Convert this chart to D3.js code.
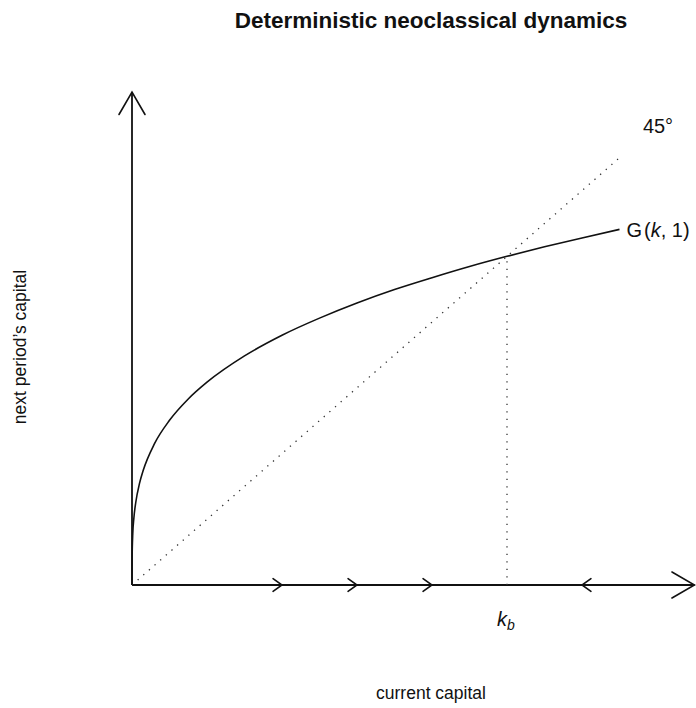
<!DOCTYPE html>
<html>
<head>
<meta charset="utf-8">
<script src="https://cdn.jsdelivr.net/npm/d3@7"></script>
<style>
  html, body { margin: 0; padding: 0; background: #fff; }
  svg { display: block; font-family: "Liberation Sans", Arial, Helvetica, sans-serif; }
</style>
</head>
<body>
<svg id="chart" width="696" height="708"></svg>
<script>
// Capital stock on the horizontal axis and next period's capital G(k, 1)
const kValues = [0, 0.0002, 0.002, 0.005, 0.01, 0.02, 0.03, 0.06, 0.1, 0.15, 0.2, 0.3, 0.4, 0.5, 0.6, 0.7, 0.8, 0.9, 1.0, 1.1, 1.2, 1.3];
const gValues = [0, 0.078, 0.155, 0.204, 0.251, 0.309, 0.349, 0.430, 0.501, 0.566, 0.617, 0.697, 0.760, 0.812, 0.858, 0.899, 0.935, 0.969, 1.000, 1.029, 1.056, 1.082];

// 45-degree line end, steady state, axis extent
const diagonalEnd = 1.3;
const kSteady = 1.0;
const axisMax = 1.5;

// direction arrows along the k axis: [position, direction]
const flowPositions = [0.4, 0.6, 0.8, 1.2];
const flowDirections = [1, 1, 1, -1];

const titleText = "Deterministic neoclassical dynamics";
const xLabel = "current capital";
const yLabel = "next period\u2019s capital";

const svg = d3.select("#chart");

const x = d3.scaleLinear().domain([0, axisMax]).range([132, 694.5]);
const y = d3.scaleLinear().domain([0, axisMax]).range([585, 92]);

const ink = "#111";

// arrowhead as two short strokes at tip (tx, ty) pointing along angle theta
function arrowHead(g, tx, ty, theta, len, spread, width) {
  const a1 = theta + Math.PI - spread;
  const a2 = theta + Math.PI + spread;
  const p = d3.path();
  p.moveTo(tx + len * Math.cos(a1), ty + len * Math.sin(a1));
  p.lineTo(tx, ty);
  p.lineTo(tx + len * Math.cos(a2), ty + len * Math.sin(a2));
  g.append("path")
    .attr("d", p.toString())
    .attr("fill", "none")
    .attr("stroke", ink)
    .attr("stroke-width", width)
    .attr("stroke-linejoin", "miter")
    .attr("stroke-linecap", "round");
}

// axes
const axes = svg.append("g");
axes.append("line")
  .attr("x1", x(0)).attr("y1", y(0))
  .attr("x2", x(axisMax)).attr("y2", y(0))
  .attr("stroke", ink).attr("stroke-width", 1.8);
axes.append("line")
  .attr("x1", x(0)).attr("y1", y(0))
  .attr("x2", x(0)).attr("y2", y(axisMax))
  .attr("stroke", ink).attr("stroke-width", 1.8);
arrowHead(axes, x(axisMax), y(0), 0, 26, Math.PI / 6, 1.6);
arrowHead(axes, x(0), y(axisMax), -Math.PI / 2, 26, Math.PI / 6, 1.6);

// flow arrows on the k axis
flowPositions.forEach((k, i) => {
  const theta = flowDirections[i] > 0 ? 0 : Math.PI;
  arrowHead(axes, x(k), y(0), theta, 11, 0.62, 1.6);
});

// 45-degree line
svg.append("line")
  .attr("x1", x(0)).attr("y1", y(0))
  .attr("x2", x(diagonalEnd)).attr("y2", y(diagonalEnd))
  .attr("stroke", "#333").attr("stroke-width", 1.3)
  .attr("stroke-dasharray", "1.3 6.2");

// steady state drop line
svg.append("line")
  .attr("x1", x(kSteady)).attr("y1", y(0))
  .attr("x2", x(kSteady)).attr("y2", y(kSteady))
  .attr("stroke", "#333").attr("stroke-width", 1.3)
  .attr("stroke-dasharray", "1.3 6.2");

// law of motion G(k, 1)
const pts = kValues.map((k, i) => [k, gValues[i]]);
const line = d3.line()
  .x(d => x(d[0]))
  .y(d => y(d[1]))
  .curve(d3.curveMonotoneX);
svg.append("path")
  .datum(pts)
  .attr("d", line)
  .attr("fill", "none")
  .attr("stroke", ink)
  .attr("stroke-width", 1.6);

// labels
const last = pts[pts.length - 1];
const gLab = svg.append("text")
  .attr("x", x(last[0]) + 7)
  .attr("y", y(last[1]) + 8)
  .attr("font-size", 20)
  .attr("fill", ink);
gLab.append("tspan").text("G");
gLab.append("tspan").attr("dx", 2).text("(");
gLab.append("tspan").attr("font-style", "italic").text("k");
gLab.append("tspan").text(", 1)");

svg.append("text")
  .attr("x", x(1.4) + 1)
  .attr("y", y(1.4) + 8)
  .attr("text-anchor", "middle")
  .attr("font-size", 20)
  .attr("fill", ink)
  .text("45\u00B0");

const kb = svg.append("text")
  .attr("x", x(kSteady) - 10)
  .attr("y", 626)
  .attr("font-size", 20)
  .attr("fill", ink);
kb.append("tspan").attr("font-style", "italic").text("k");
kb.append("tspan").attr("font-style", "italic").attr("font-size", 14).attr("dy", 4).text("b");

// title and axis titles
svg.append("text")
  .attr("x", 431)
  .attr("y", 28)
  .attr("text-anchor", "middle")
  .attr("font-size", 22.5)
  .attr("font-weight", "bold")
  .attr("fill", ink)
  .text(titleText);

svg.append("text")
  .attr("x", 431)
  .attr("y", 699)
  .attr("text-anchor", "middle")
  .attr("font-size", 17.5)
  .attr("fill", ink)
  .text(xLabel);

svg.append("text")
  .attr("transform", "translate(26,347) rotate(-90)")
  .attr("text-anchor", "middle")
  .attr("font-size", 17.5)
  .attr("fill", ink)
  .text(yLabel);
</script>
</body>
</html>
